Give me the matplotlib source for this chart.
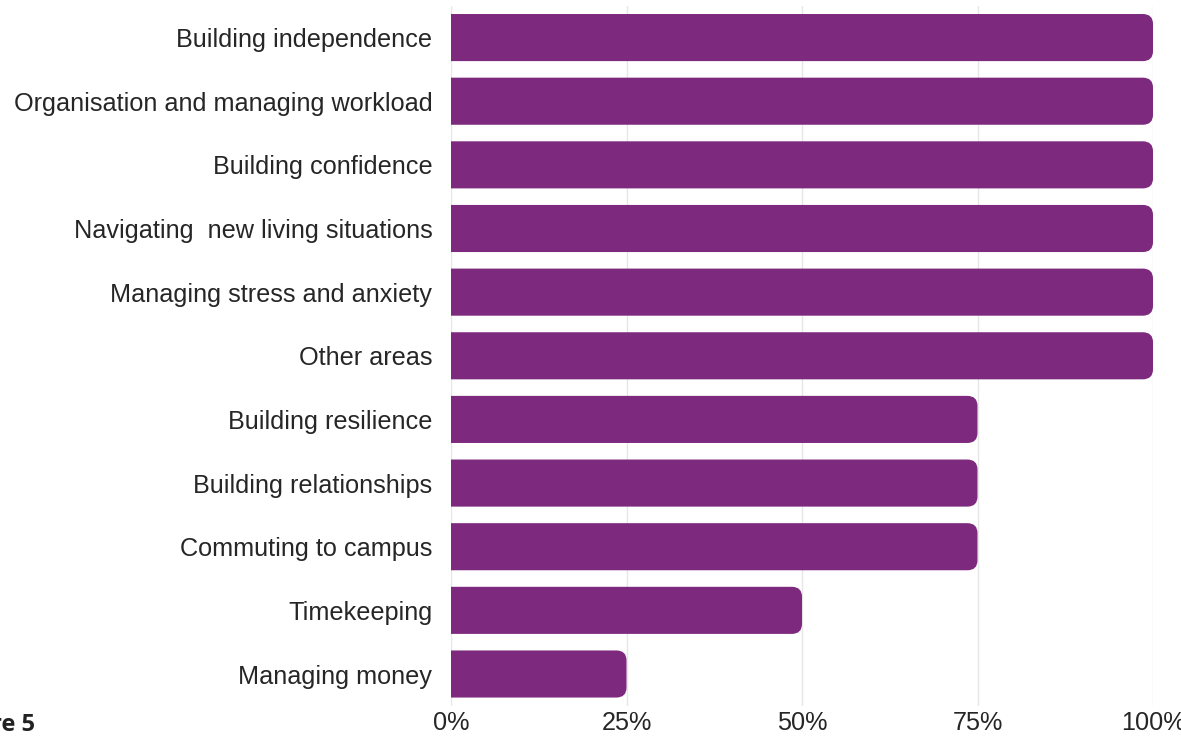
import matplotlib.pyplot as plt
from matplotlib.patches import FancyBboxPatch
from matplotlib.ticker import PercentFormatter

plt.rcParams['font.family'] = ['Liberation Sans', 'DejaVu Sans']

categories = [
    "Building independence",
    "Organisation and managing workload",
    "Building confidence",
    "Navigating  new living situations",
    "Managing stress and anxiety",
    "Other areas",
    "Building resilience",
    "Building relationships",
    "Commuting to campus",
    "Timekeeping",
    "Managing money",
]
shares = [100, 100, 100, 100, 100, 100, 75, 75, 75, 50, 25]

bar_color = "#7d2a7e"

fig = plt.figure(figsize=(11.81, 7.36), dpi=100)
ax = fig.add_axes([0.3819, 0.041, 0.5944, 0.9512])

bar_h = 0.74
for i, v in enumerate(shares):
    # start a bit left of zero so only the right corners show as rounded
    box = FancyBboxPatch((-5, i - bar_h / 2), v + 5, bar_h,
                         boxstyle="round,pad=0,rounding_size=1.45",
                         mutation_aspect=0.108,
                         facecolor=bar_color, edgecolor="none", zorder=3)
    ax.add_patch(box)

ax.set_xlim(0, 100)
ax.set_ylim(len(categories) - 0.5, -0.5)
ax.set_yticks(range(len(categories)))
ax.set_yticklabels(categories)
ax.set_xticks([0, 25, 50, 75, 100])
ax.xaxis.set_major_formatter(PercentFormatter(decimals=0))
ax.tick_params(axis="both", length=0, labelsize=18.2, colors="#262626")
ax.tick_params(axis="y", pad=13.5)
ax.tick_params(axis="x", pad=4)
ax.grid(axis="x", color="#e6e6e6", linewidth=1, zorder=0)
for s in ax.spines.values():
    s.set_visible(False)

fig.text(35 / 1181, 5 / 736, "Figure 5", ha="right", va="baseline",
         fontsize=17, fontweight="bold", color="#222222",
         family=["Open Sans", "DejaVu Sans"])

fig.savefig("out.png", dpi=100)
